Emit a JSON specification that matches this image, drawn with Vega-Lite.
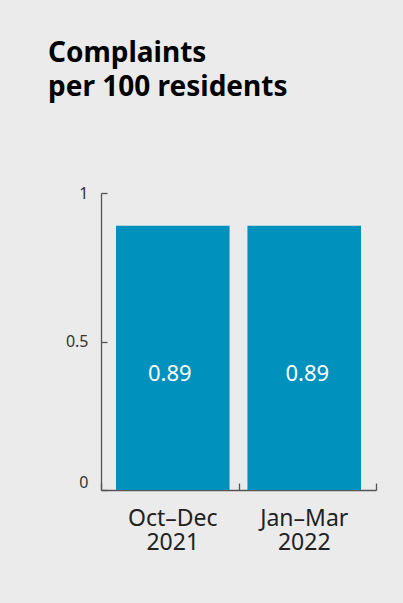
{
  "$schema": "https://vega.github.io/schema/vega-lite/v6.json",
  "autosize": {"type": "none"},
  "width": 275,
  "height": 297,
  "padding": {"left": 101, "top": 193, "right": 27, "bottom": 113},
  "background": "#ebebeb",
  "title": {
    "text": ["Complaints", "per 100 residents"],
    "anchor": "start",
    "frame": "group",
    "font": "Noto Sans",
    "fontSize": 28,
    "fontWeight": "bold",
    "color": "#000000",
    "lineHeight": 34,
    "baseline": "alphabetic",
    "offset": 96,
    "dx": -53,
    "dy": 35
  },
  "data": {
    "values": [
      {"period": "Oct–Dec|2021", "value": 0.89},
      {"period": "Jan–Mar|2022", "value": 0.89}
    ]
  },
  "config": {
    "view": {"stroke": null},
    "axis": {"grid": false}
  },
  "resolve": {"scale": {"x": "independent"}, "axis": {"x": "independent"}},
  "layer": [
    {
      "mark": {"type": "bar", "color": "#0092bc"},
      "encoding": {
        "x": {
          "field": "period",
          "type": "nominal",
          "sort": null,
          "scale": {"paddingInner": 0.136, "paddingOuter": 0.114},
          "axis": {
            "orient": "bottom",
            "title": null,
            "labelAngle": 0,
            "labelExpr": "split(datum.label, '|')",
            "labelFont": "Noto Sans",
            "labelFontSize": 23,
            "labelColor": "#222222",
            "labelLineHeight": 24,
            "labelBaseline": "top",
            "labelPadding": 17,
            "ticks": false,
            "domain": false
          }
        },
        "y": {
          "field": "value",
          "type": "quantitative",
          "scale": {"domain": [0, 1]},
          "axis": {
            "title": null,
            "values": [0, 0.5, 1],
            "format": ".1~f",
            "labelFont": "Noto Sans",
            "labelFontSize": 16,
            "labelColor": "#333333",
            "labelBaseline": {"condition": {"test": "datum.value === 0", "value": "bottom"}, "value": "middle"},
            "labelPadding": 19,
            "tickSize": -6,
            "tickColor": "#555555",
            "tickWidth": 1.3,
            "domainColor": "#555555",
            "domainWidth": 1.3
          }
        }
      }
    },
    {
      "mark": {"type": "text", "color": "#ffffff", "font": "Noto Sans", "fontSize": 22, "baseline": "middle", "align": "center"},
      "encoding": {
        "x": {
          "field": "period",
          "type": "nominal",
          "sort": null,
          "scale": {"paddingInner": 0, "paddingOuter": 0},
          "axis": {
            "orient": "bottom",
            "title": null,
            "labels": false,
            "tickBand": "extent",
            "tickSize": -7,
            "tickColor": "#555555",
            "tickWidth": 1.3,
            "domainColor": "#555555",
            "domainWidth": 1.3
          }
        },
        "y": {"datum": 0.39, "type": "quantitative"},
        "text": {"field": "value", "type": "quantitative", "format": ".2f"}
      }
    }
  ]
}
